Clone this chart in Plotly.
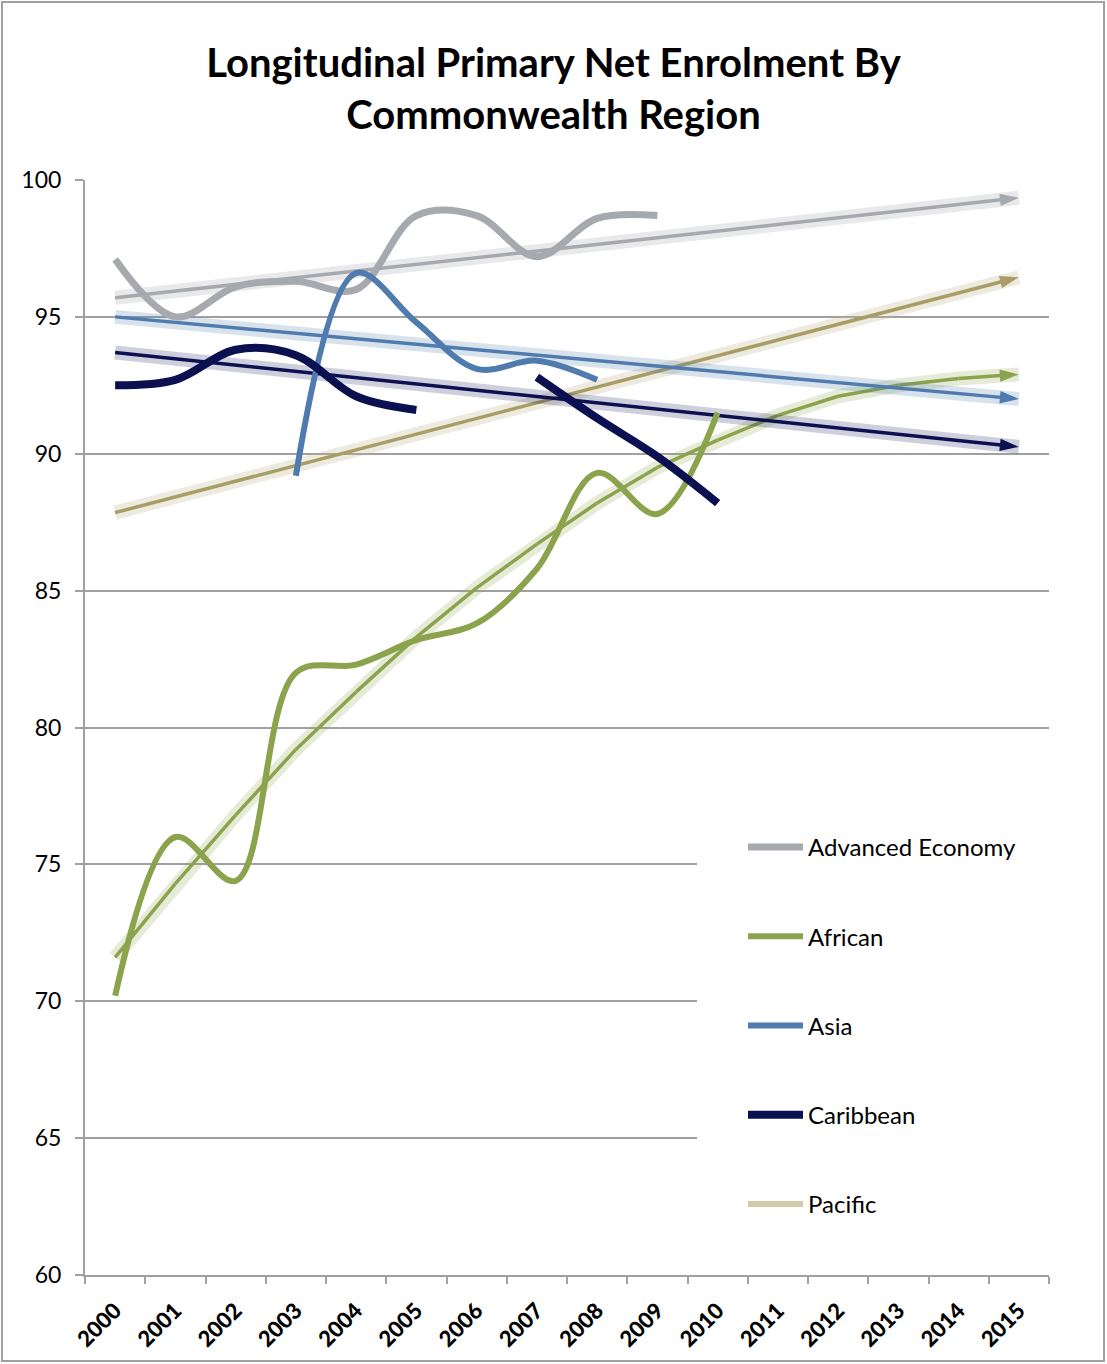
import plotly.graph_objects as go

years = ["2000", "2001", "2002", "2003", "2004", "2005", "2006", "2007",
         "2008", "2009", "2010", "2011", "2012", "2013", "2014", "2015"]

advanced = [97.1, 95.0, 96.1, 96.3, 96.0, 98.7, 98.7, 97.2, 98.6, 98.7]
african = [70.2, 76.0, 74.4, 82.0, 82.3, 83.2, 83.8, 85.8, 89.3, 87.8, 91.5]
asia = [None, None, None, 89.2, 96.6, 94.8, 93.1, 93.4, 92.7]
caribbean = [92.5, 92.7, 93.8, 93.6, 92.1, 91.6, None, 92.8, 91.3, 89.9, 88.2]
pacific = [None] * 16

# trend lines
trend_years = ["2000", "2015"]
advanced_trend = [95.7, 99.35]
asia_trend = [95.0, 92.0]
caribbean_trend = [93.7, 90.25]
pacific_trend = [87.85, 96.45]
african_trend = [71.6, 74.3, 76.8, 79.2, 81.3, 83.3, 85.1, 86.7,
                 88.2, 89.5, 90.5, 91.4, 92.1, 92.5, 92.75, 92.9]

C_ADV = "#A6A9AE"
C_AFR = "#8CA34D"
C_ASIA = "#4F7BAE"
C_CAR = "#0B1050"
C_PAC = "#D2CBAA"
C_PAC_TR = "#A99D66"

FONT = "Lato"

fig = go.Figure()


def add_trend(xs, ys, color, glow):
    n = len(xs)
    fig.add_trace(go.Scatter(x=xs, y=ys, mode="lines", showlegend=False,
                             hoverinfo="skip",
                             line=dict(color=glow, width=14)))
    fig.add_trace(go.Scatter(
        x=xs, y=ys, mode="lines+markers", showlegend=False, hoverinfo="skip",
        line=dict(color=color, width=3.5),
        marker=dict(symbol=["circle"] * (n - 1) + ["arrow"],
                    size=[1] * (n - 1) + [20],
                    opacity=[0] * (n - 1) + [1],
                    angleref="previous", color=color,
                    line=dict(width=0))))


add_trend(trend_years, advanced_trend, C_ADV, "rgba(166,169,174,0.25)")
add_trend(trend_years, pacific_trend, C_PAC_TR, "rgba(190,180,140,0.28)")
add_trend(years, african_trend, C_AFR, "rgba(140,163,77,0.22)")
add_trend(trend_years, asia_trend, C_ASIA, "rgba(79,123,174,0.22)")
add_trend(trend_years, caribbean_trend, C_CAR, "rgba(11,16,80,0.2)")

series = [
    ("Advanced Economy", advanced, C_ADV, 7),
    ("African", african, C_AFR, 6),
    ("Asia", asia, C_ASIA, 6),
    ("Caribbean", caribbean, C_CAR, 8),
    ("Pacific", pacific, C_PAC, 6),
]
for name, vals, col, w in series:
    fig.add_trace(go.Scatter(
        x=years[:len(vals)], y=vals, name=name, mode="lines",
        legendgroup=name, connectgaps=False,
        line=dict(color=col, width=w, shape="spline", smoothing=1.0)))

GRID = "#A0A0A0"

# white legend background covering gridlines
fig.add_shape(type="rect", xref="paper", yref="paper",
              x0=(697 - 85) / 964, x1=1.0,
              y0=(1275 - 1266) / 1095, y1=(1275 - 800) / 1095,
              fillcolor="white", line=dict(width=0), layer="above")

# outer frame
fig.add_shape(type="rect", xref="paper", yref="paper",
              x0=(2 - 85) / 964, x1=(1104 - 85) / 964,
              y0=(1275 - 1361) / 1095, y1=(1275 - 2) / 1095,
              line=dict(color="#A0A0A0", width=2), fillcolor="rgba(0,0,0,0)")

fig.update_layout(
    width=1107, height=1364,
    margin=dict(l=85, r=58, t=180, b=89),
    paper_bgcolor="white", plot_bgcolor="white",
    font=dict(family=FONT, color="black"),
    title=dict(text="Longitudinal Primary Net Enrolment By<br>Commonwealth Region",
               x=0.5, xref="container", xanchor="center",
               y=1 - 77 / 1364, yanchor="top",
               font=dict(family=FONT, size=40, weight="bold", color="black")),
    showlegend=True,
    legend=dict(x=(743 - 85) / 964, xanchor="left",
                y=(1275 - 825) / 1095, yanchor="top",
                bgcolor="rgba(0,0,0,0)", borderwidth=0,
                font=dict(family=FONT, size=24, color="black"),
                tracegroupgap=55, traceorder="grouped", itemwidth=55),
    xaxis=dict(type="category", categoryorder="array", categoryarray=years,
               range=[-0.5, 15.5], showgrid=False, showline=True,
               linecolor=GRID, linewidth=2, ticks="outside", tickson="boundaries",
               tickcolor=GRID, ticklen=7, tickwidth=2, tickangle=-45,
               ticklabelstandoff=12,
               tickfont=dict(family=FONT, size=22, weight=900, color="black")),
    yaxis=dict(range=[60, 100], tickvals=[60, 65, 70, 75, 80, 85, 90, 95, 100],
               showgrid=True, gridcolor=GRID, gridwidth=2, showline=True,
               linecolor=GRID, linewidth=2, ticks="outside", tickcolor=GRID,
               ticklen=8, tickwidth=2, zeroline=False, ticklabelstandoff=9,
               tickfont=dict(family=FONT, size=23, color="black")),
)

fig.write_html("out.html", config={"displayModeBar": False},
               post_script="document.body.style.margin='0';")
